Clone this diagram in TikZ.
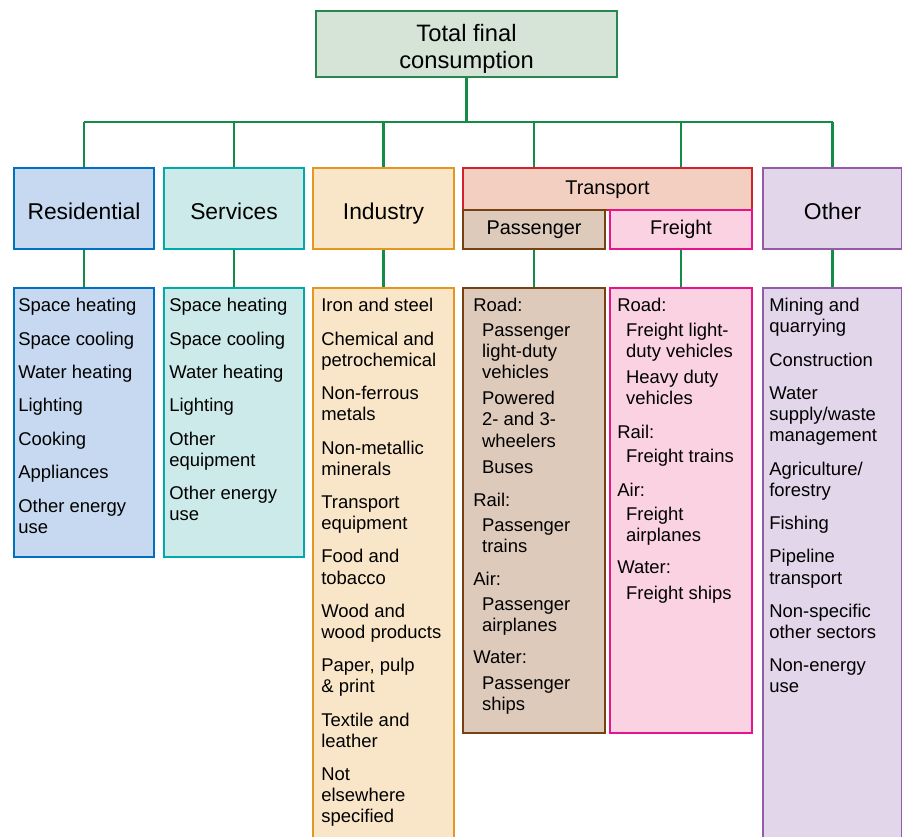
\documentclass[tikz,border=0pt]{standalone}
\usepackage{fontspec}
\setmainfont{Liberation Sans}
\definecolor{linkgreen}{RGB}{20,140,70}
\definecolor{totline}{RGB}{40,135,80}\definecolor{totfill}{RGB}{213,228,215}
\definecolor{resline}{RGB}{0,112,192}\definecolor{resfill}{RGB}{198,217,240}
\definecolor{serline}{RGB}{0,170,170}\definecolor{serfill}{RGB}{205,234,234}
\definecolor{indline}{RGB}{228,150,30}\definecolor{indfill}{RGB}{249,230,200}
\definecolor{traline}{RGB}{210,35,45}\definecolor{trafill}{RGB}{242,207,193}
\definecolor{pasline}{RGB}{120,65,20}\definecolor{pasfill}{RGB}{222,202,187}
\definecolor{freline}{RGB}{232,20,140}\definecolor{frefill}{RGB}{250,210,226}
\definecolor{othline}{RGB}{150,90,170}\definecolor{othfill}{RGB}{226,214,234}
\newcommand{\indt}{\hspace*{5pt}}

\begin{document}
\begin{tikzpicture}[x=0.02cm,y=-0.02cm,
  box/.style={draw=#1,line width=1.2pt,anchor=north west,inner sep=0pt},
  head/.style={minimum width=2.8cm,minimum height=1.62cm,text height=15pt,text depth=2.5pt,font=\fontsize{13}{15}\selectfont},
  sub/.style={minimum width=2.84cm,minimum height=0.78cm,text height=8.5pt,text depth=2.5pt,font=\fontsize{11.3}{13}\selectfont},
  items/.style={anchor=north west,inner sep=0pt,align=left,font=\fontsize{10.5}{12}\selectfont},
  link/.style={draw=linkgreen,line width=1.3pt}]
\useasboundingbox (0,0) rectangle (902,837);
\node[box=totline,fill=totfill,minimum width=6.02cm,minimum height=1.32cm] (total) at (315,10) {};
\node[align=center,inner sep=0pt,font=\fontsize{13.5}{15.3}\selectfont] (totaltext) at ([shift={(0,5)}]total.center) {Total final\\consumption};
% sector headers
\node[box=resline,fill=resfill,head] (res) at (13,167) {Residential};
\node[box=serline,fill=serfill,head] (ser) at (163,167) {Services};
\node[box=indline,fill=indfill,head,minimum width=2.82cm] (ind) at (312,167) {Industry};
\node[box=traline,fill=trafill,minimum width=5.78cm,minimum height=0.84cm,text height=8.5pt,text depth=2.5pt,font=\fontsize{11.3}{13}\selectfont] (tra) at (462,167) {Transport};
\node[box=pasline,fill=pasfill,sub] (pas) at (462,209) {Passenger};
\node[box=freline,fill=frefill,sub] (fre) at (609,209) {Freight};
\node[box=othline,fill=othfill,head,minimum width=2.78cm] (oth) at (762,167) {Other};
% lists
\node[box=resline,fill=resfill,minimum width=2.8cm,minimum height=5.38cm] (reslist) at (13,287) {};
\node[box=serline,fill=serfill,minimum width=2.8cm,minimum height=5.38cm] (serlist) at (163,287) {};
\node[box=indline,fill=indfill,minimum width=2.82cm,minimum height=11.3cm] (indlist) at (312,287) {};
\node[box=pasline,fill=pasfill,minimum width=2.84cm,minimum height=8.9cm] (paslist) at (462,287) {};
\node[box=freline,fill=frefill,minimum width=2.84cm,minimum height=8.9cm] (frelist) at (609,287) {};
\node[box=othline,fill=othfill,minimum width=2.78cm,minimum height=11.3cm] (othlist) at (762,287) {};

\node[items] (restext) at ([shift={(5,11)}]reslist.north west) {Space heating\\[7pt] Space cooling\\[7pt] Water heating\\[7pt] Lighting\\[7pt] Cooking\\[7pt] Appliances\\[7pt] Other energy\\ use};
\node[items] (sertext) at ([shift={(6,11)}]serlist.north west) {Space heating\\[7pt] Space cooling\\[7pt] Water heating\\[7pt] Lighting\\[7pt] Other\\ equipment\\[7pt] Other energy\\ use};
\node[items] (indtext) at ([shift={(9,11)}]indlist.north west) {Iron and steel\\[7pt] Chemical and\\ petrochemical\\[7pt] Non-ferrous\\ metals\\[7pt] Non-metallic\\ minerals\\[7pt] Transport\\ equipment\\[7pt] Food and\\ tobacco\\[7pt] Wood and\\ wood products\\[7pt] Paper, pulp\\ \& print\\[7pt] Textile and\\ leather\\[7pt] Not\\ elsewhere\\ specified};
\node[items] (pastext) at ([shift={(11,11)}]paslist.north west) {Road:\\[2pt] \indt Passenger\\ \indt light-duty\\ \indt vehicles\\[3pt] \indt Powered\\ \indt 2- and 3-\\ \indt wheelers\\[3pt] \indt Buses\\[7pt] Rail:\\[2pt] \indt Passenger\\ \indt trains\\[7pt] Air:\\[2pt] \indt Passenger\\ \indt airplanes\\[6pt] Water:\\[3pt] \indt Passenger\\ \indt ships};
\node[items] (fretext) at ([shift={(8,11)}]frelist.north west) {Road:\\[2pt] \indt Freight light-\\ \indt duty vehicles\\[3pt] \indt Heavy duty\\ \indt vehicles\\[7pt] Rail:\\[2pt] \indt Freight trains\\[7pt] Air:\\[2pt] \indt Freight\\ \indt airplanes\\[6pt] Water:\\[3pt] \indt Freight ships};
\node[items] (othtext) at ([shift={(7,11)}]othlist.north west) {Mining and\\ quarrying\\[7pt] Construction\\[7pt] Water\\ supply/waste\\ management\\[7pt] Agriculture/\\ forestry\\[7pt] Fishing\\[7pt] Pipeline\\ transport\\[7pt] Non-specific\\ other sectors\\[7pt] Non-energy\\ use};

% connectors
\coordinate (bus) at (0,122);
\draw[link] (total.south) -- (total.south |- bus);
\draw[link] (res.north |- bus) -- (oth.north |- bus);
\foreach \n in {res,ser,ind,oth} \draw[link] (\n.north |- bus) -- (\n.north);
\foreach \n in {pas,fre} \draw[link] (\n.north |- bus) -- (\n.north |- tra.north);
\foreach \n in {res,ser,ind,pas,fre,oth} \draw[link] (\n.south) -- (\n list.north);
\end{tikzpicture}
\end{document}
